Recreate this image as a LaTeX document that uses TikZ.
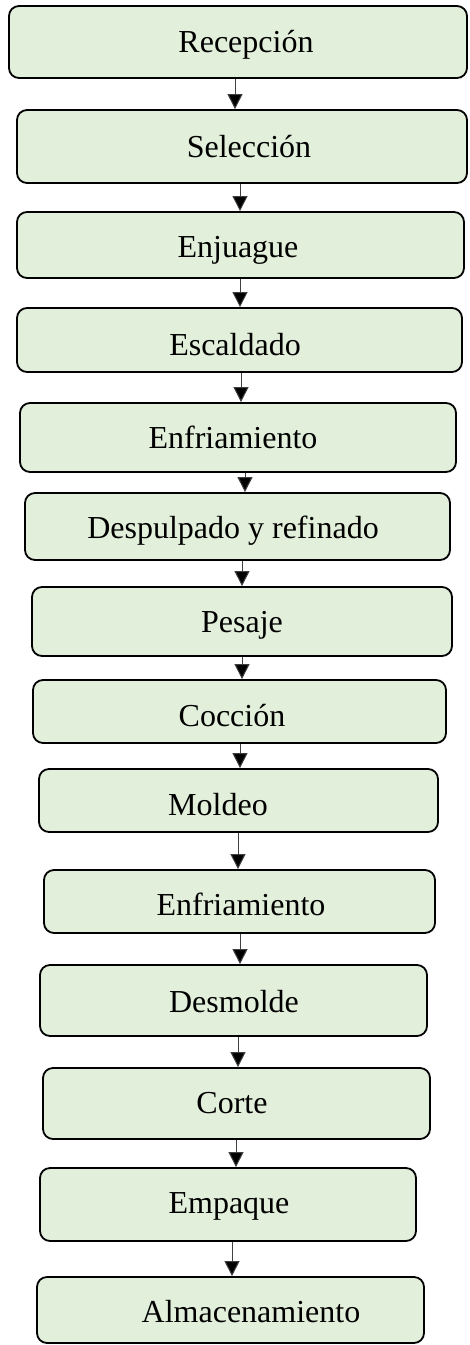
\documentclass[tikz,border=0pt]{standalone}
\usepackage{fontspec}
\setmainfont{Liberation Serif}
\usetikzlibrary{arrows.meta}
\definecolor{boxfill}{HTML}{E2EFDA}
\definecolor{linegray}{HTML}{404040}
\tikzset{
  box/.style={draw=black, line width=1.8pt, fill=boxfill, rounded corners=10pt, inner sep=0pt},
  lbl/.style={inner sep=0pt, anchor=base, font=\fontsize{32}{38}\selectfont},
  arr/.style={draw=linegray, line width=1pt, -{Triangle[width=15pt,length=15pt,fill=black]}}
}
\newcommand\mkstep[8]{%
  \node[box, minimum width={(#4-#2)*1pt}, minimum height={(#5-#3)*1pt}] (#1) at ({(#2+#4)/2},{(#3+#5)/2}) {};
  \node[lbl] (#1t) at (#6,#7) {#8};
}
\begin{document}
\begin{tikzpicture}[x=1pt,y=-1pt]
\useasboundingbox (0,0) rectangle (469,1345);
\mkstep{b1}{9}{6}{467}{78}{246}{52}{Recepción}
\mkstep{b2}{17}{110}{467}{183}{249}{157}{Selección}
\mkstep{b3}{17}{212}{464}{278}{238}{257}{Enjuague}
\mkstep{b4}{17}{308}{462}{372}{235}{355}{Escaldado}
\mkstep{b5}{20}{403}{456}{472}{233}{448}{Enfriamiento}
\mkstep{b6}{25}{493}{450}{560}{233}{538}{Despulpado y refinado}
\mkstep{b7}{32}{587}{452}{656}{242}{632}{Pesaje}
\mkstep{b8}{33}{680}{446}{743}{232}{726}{Cocción}
\mkstep{b9}{39}{769}{438}{832}{218}{815}{Moldeo}
\mkstep{b10}{44}{870}{435}{933}{241}{915}{Enfriamiento}
\mkstep{b11}{40}{965}{427}{1036}{234}{1012}{Desmolde}
\mkstep{b12}{43}{1068}{430}{1139}{232}{1113}{Corte}
\mkstep{b13}{40}{1168}{416}{1241}{229}{1213}{Empaque}
\mkstep{b14}{37}{1277}{424}{1343}{251}{1322}{Almacenamiento}
\coordinate (a1) at (235,0);
\coordinate (a2) at (240,0);
\coordinate (a3) at (240,0);
\coordinate (a4) at (241,0);
\coordinate (a5) at (245,0);
\coordinate (a6) at (242,0);
\coordinate (a7) at (242,0);
\coordinate (a8) at (240,0);
\coordinate (a9) at (238,0);
\coordinate (a10) at (240,0);
\coordinate (a11) at (238,0);
\coordinate (a12) at (236,0);
\coordinate (a13) at (232,0);
\foreach \i [evaluate=\i as \j using int(\i+1)] in {1,...,13}{
  \draw[arr] (b\i.south -| a\i) -- (b\j.north -| a\i);
}
\end{tikzpicture}
\end{document}
